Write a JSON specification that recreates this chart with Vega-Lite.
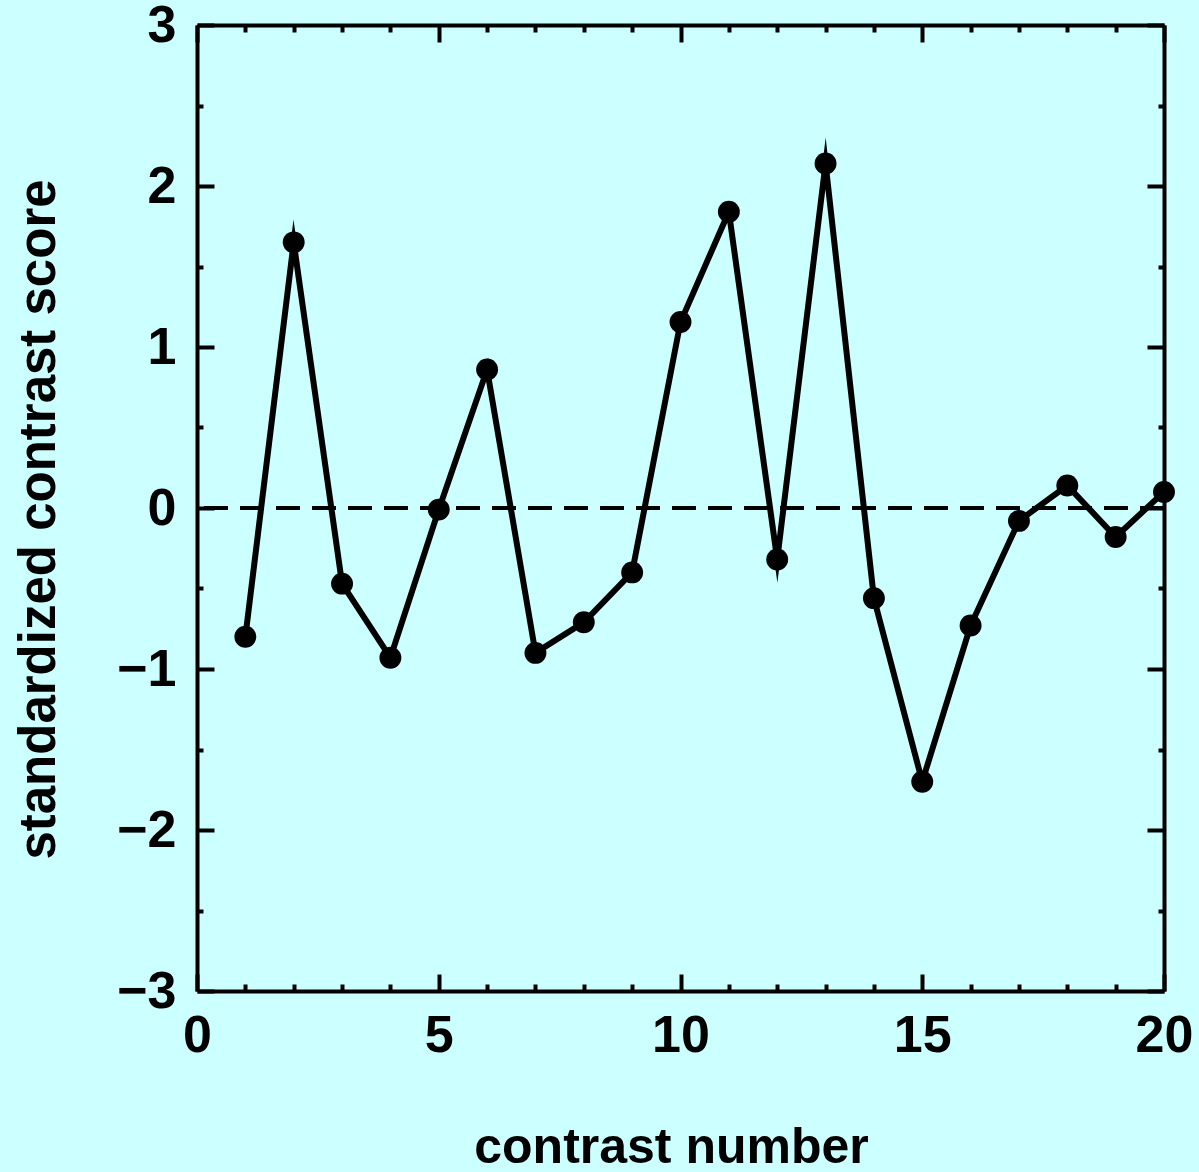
{
  "$schema": "https://vega.github.io/schema/vega-lite/v6.json",
  "autosize": "none",
  "padding": {"left": 197, "top": 25, "right": 35, "bottom": 181},
  "width": 967,
  "height": 966,
  "background": "#ccffff",
  "config": {
    "view": {"stroke": null},
    "font": "Liberation Sans",
    "axis": {
      "grid": false,
      "domainColor": "#000000",
      "domainWidth": 4,
      "tickColor": "#000000",
      "tickWidth": 4,
      "labelFont": "Liberation Sans",
      "labelFontSize": 52,
      "labelFontWeight": "bold",
      "labelColor": "#000000",
      "labelFlush": false,
      "labelOverlap": false,
      "titleFont": "Liberation Sans",
      "titleFontWeight": "bold",
      "titleColor": "#000000",
      "format": "d"
    }
  },
  "data": {
    "values": [
      {"n": 1, "z": -0.80},
      {"n": 2, "z": 1.65},
      {"n": 3, "z": -0.47},
      {"n": 4, "z": -0.93},
      {"n": 5, "z": -0.01},
      {"n": 6, "z": 0.86},
      {"n": 7, "z": -0.90},
      {"n": 8, "z": -0.71},
      {"n": 9, "z": -0.40},
      {"n": 10, "z": 1.155},
      {"n": 11, "z": 1.84},
      {"n": 12, "z": -0.32},
      {"n": 13, "z": 2.14},
      {"n": 14, "z": -0.56},
      {"n": 15, "z": -1.70},
      {"n": 16, "z": -0.73},
      {"n": 17, "z": -0.08},
      {"n": 18, "z": 0.14},
      {"n": 19, "z": -0.18},
      {"n": 20, "z": 0.10}
    ]
  },
  "layer": [
    {
      "mark": {"type": "rule", "color": "#000000", "strokeWidth": 4, "strokeDash": [24, 12]},
      "encoding": {
        "y": {"datum": 0, "type": "quantitative", "scale": {"domain": [-3, 3], "nice": false, "zero": false}, "axis": null}
      }
    },
    {
      "mark": {"type": "line", "color": "#000000", "strokeWidth": 6, "strokeJoin": "miter", "strokeMiterLimit": 10},
      "encoding": {
        "x": {
          "field": "n", "type": "quantitative",
          "scale": {"domain": [0, 20], "nice": false, "zero": false},
          "axis": {
            "orient": "bottom",
            "title": "contrast number",
            "titleFontSize": 50,
            "titleX": 474,
            "values": [0,1,2,3,4,5,6,7,8,9,10,11,12,13,14,15,16,17,18,19,20],
            "tickSize": {"condition": {"test": "datum.value % 5 === 0", "value": -17}, "value": -7},
            "labelExpr": "datum.value % 5 === 0 ? datum.label : ''",
            "labelPadding": 36,
            "titlePadding": 51
          }
        },
        "y": {
          "field": "z", "type": "quantitative",
          "scale": {"domain": [-3, 3], "nice": false, "zero": false},
          "axis": {
            "orient": "left",
            "title": "standardized contrast score",
            "titleFontSize": 51,
            "titleY": 494,
            "values": [-3,-2.5,-2,-1.5,-1,-0.5,0,0.5,1,1.5,2,2.5,3],
            "tickSize": {"condition": {"test": "datum.value % 1 === 0", "value": -17}, "value": -6},
            "labelExpr": "datum.value % 1 === 0 ? datum.label : ''",
            "labelPadding": 38,
            "titlePadding": 51
          }
        }
      }
    },
    {
      "mark": {"type": "circle", "color": "#000000", "opacity": 1, "size": 480},
      "encoding": {
        "x": {
          "field": "n", "type": "quantitative",
          "scale": {"domain": [0, 20], "nice": false, "zero": false},
          "axis": {
            "orient": "top",
            "title": null,
            "values": [0,1,2,3,4,5,6,7,8,9,10,11,12,13,14,15,16,17,18,19,20],
            "tickSize": {"condition": {"test": "datum.value % 5 === 0", "value": -17}, "value": -7},
            "labels": false
          }
        },
        "y": {
          "field": "z", "type": "quantitative",
          "scale": {"domain": [-3, 3], "nice": false, "zero": false},
          "axis": {
            "orient": "right",
            "title": null,
            "values": [-3,-2.5,-2,-1.5,-1,-0.5,0,0.5,1,1.5,2,2.5,3],
            "tickSize": {"condition": {"test": "datum.value % 1 === 0", "value": -17}, "value": -6},
            "labels": false
          }
        }
      }
    }
  ],
  "resolve": {"axis": {"x": "independent", "y": "independent"}}
}
